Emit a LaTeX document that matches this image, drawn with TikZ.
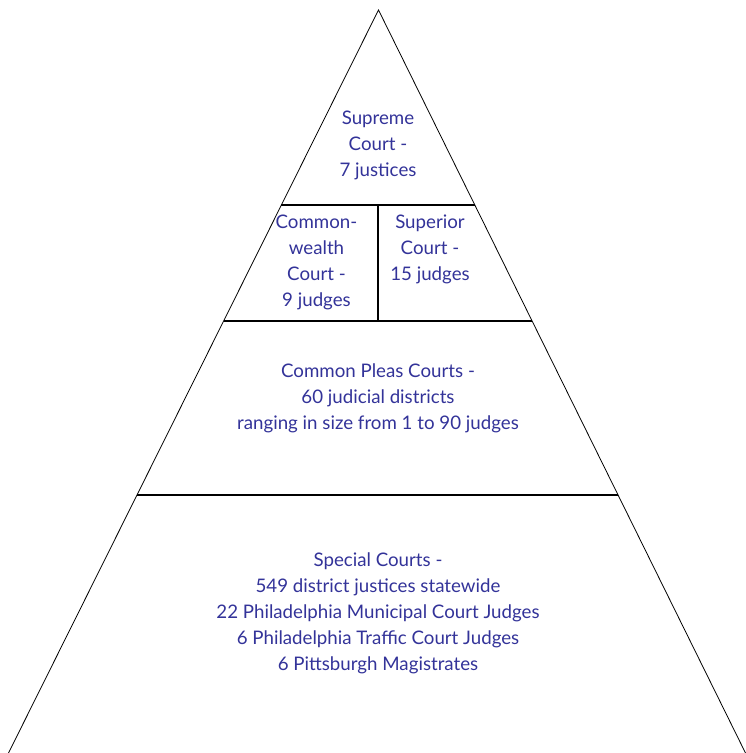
\documentclass[tikz,border=0pt]{standalone}
\usepackage{fontspec}
\setmainfont{Lato}
\usetikzlibrary{calc}
\definecolor{txtblue}{RGB}{51,51,153}
\tikzset{
  edge/.style={line width=0.8pt, black},
  divider/.style={line width=1.6pt, black},
  label/.style={text=txtblue, align=center, inner sep=0pt,
    font=\fontsize{18.7}{26}\selectfont}
}
\begin{document}
\begin{tikzpicture}[x=1pt,y=-1pt]
\useasboundingbox (0,0) rectangle (745,753);
\coordinate (A) at (378.5,10);
\coordinate (BL) at (8.5,753);
\coordinate (BR) at (745.5,753);
\draw[edge] (BL) -- (A) -- (BR);
% dividers
\coordinate (L1) at ($(A)!0.2624!(BL)$);
\coordinate (R1) at ($(A)!0.2624!(BR)$);
\coordinate (L2) at ($(A)!0.4186!(BL)$);
\coordinate (R2) at ($(A)!0.4186!(BR)$);
\coordinate (L3) at ($(A)!0.6528!(BL)$);
\coordinate (R3) at ($(A)!0.6528!(BR)$);
\coordinate (V1) at (378,205);
\coordinate (V2) at (378,321);
\draw[divider] (L1) -- (R1);
\draw[divider] (L2) -- (R2);
\draw[divider] (L3) -- (R3);
\draw[divider] (V1) -- (V2);
% labels
\node[label] (supreme) at (378,145.5) {Supreme\\Court -\\7 justices};
\node[label] (commonwealth) at (316.5,262) {Common-\\wealth\\Court -\\9 judges};
\node[label] (superior) at (430,249.5) {Superior\\Court -\\15 judges};
\node[label] (pleas) at (378,398.5) {Common Pleas Courts -\\60 judicial districts\\ranging in size from 1 to 90 judges};
\node[label] (special) at (378,613) {Special Courts -\\549 district justices statewide\\22 Philadelphia Municipal Court Judges\\6 Philadelphia Traffic Court Judges\\6 Pittsburgh Magistrates};
\end{tikzpicture}
\end{document}
